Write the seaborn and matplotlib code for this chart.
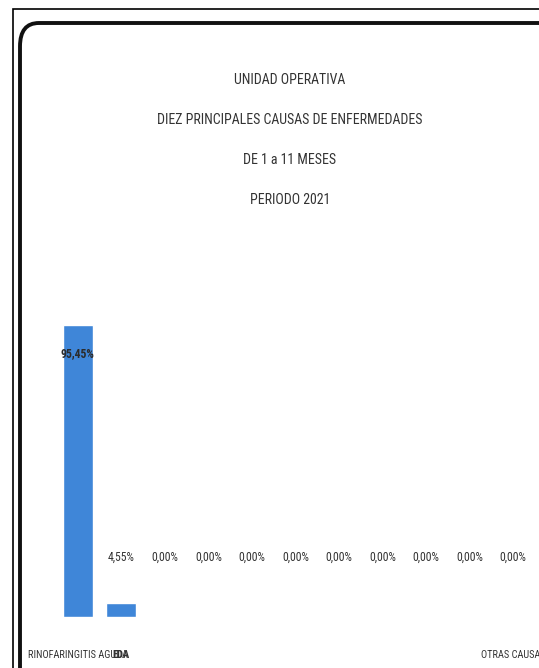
import matplotlib
matplotlib.use("Agg")
import matplotlib.pyplot as plt
import numpy as np
import seaborn as sns
from matplotlib import font_manager
from matplotlib.patches import FancyBboxPatch, Rectangle

# data
causas = ["RINOFARINGITIS AGUDA", "EDA", "", "", "", "", "", "", "", "", "OTRAS CAUSAS"]
porcentajes = [95.45, 4.55, 0, 0, 0, 0, 0, 0, 0, 0, 0]
etiquetas = ["95,45%", "4,55%", "0,00%", "0,00%", "0,00%", "0,00%", "0,00%",
             "0,00%", "0,00%", "0,00%", "0,00%"]
titulo = ["UNIDAD OPERATIVA",
          "DIEZ PRINCIPALES CAUSAS DE ENFERMEDADES",
          "DE 1 a 11 MESES",
          "PERIODO 2021"]


def pick_narrow_font():
    """
    Looks for a condensed family among the installed fonts, else DejaVu Sans.
    """
    names = {f.name for f in font_manager.fontManager.ttflist}
    for cand in ["Liberation Sans Narrow", "Roboto Condensed", "Open Sans Condensed",
                 "DejaVu Sans Condensed", "Noto Sans Condensed"]:
        if cand in names:
            return cand
    return "DejaVu Sans"


sns.set_theme(style="white")
font = pick_narrow_font()
plt.rcParams['font.family'] = [font, 'DejaVu Sans']

W, H = 539, 668
fig = plt.figure(figsize=(W / 100, H / 100), dpi=100)
fig.patch.set_facecolor("white")

# frame lines (outer thin, inner thick rounded)
fig.patches.append(Rectangle((13 / W, -0.1), 1.2, 1 - 9 / H + 0.1, transform=fig.transFigure,
                             fill=False, edgecolor="black", linewidth=1.2))
fig.patches.append(FancyBboxPatch((20 / W, -0.1), 1.2, 1 - 23 / H + 0.1,
                                  boxstyle="round,pad=0,rounding_size=0.035",
                                  transform=fig.transFigure, fill=False,
                                  edgecolor="#111111", linewidth=2.8))

ax = fig.add_axes([56 / W, (H - 617) / H, 479 / W, 306 / H])
ax.set_facecolor("none")

x = np.arange(len(porcentajes))
sns.barplot(x=x, y=porcentajes, color="#3f86d8", saturation=1, width=0.69, ax=ax)

ax.set_ylim(0, 100)
ax.set_xlim(-0.5, len(porcentajes) - 0.5)
ax.set_yticks([])
ax.set_xticks(x, labels=causas, fontsize=7.5, color="#333333")
ax.get_xticklabels()[1].set_fontweight("bold")
ax.tick_params(axis="x", length=0, pad=24)
ax.set_xlabel("")
ax.set_ylabel("")
sns.despine(ax=ax, left=True, bottom=True)

for i, (v, lab) in enumerate(zip(porcentajes, etiquetas)):
    if v > 50:
        ax.text(i, v - 9.5, lab, ha="center", va="center", fontsize=8.5,
                color="#2b2b2b", fontweight="bold")
    else:
        ax.text(i, 19.5, lab, ha="center", va="center", fontsize=8.5,
                color="#333333")

# title lines
for k, linea in enumerate(titulo):
    fig.text(290 / W, 1 - (80 + 40 * k) / H, linea, ha="center", va="center",
             fontsize=10, color="#333333")

fig.savefig("out.png", dpi=100)
